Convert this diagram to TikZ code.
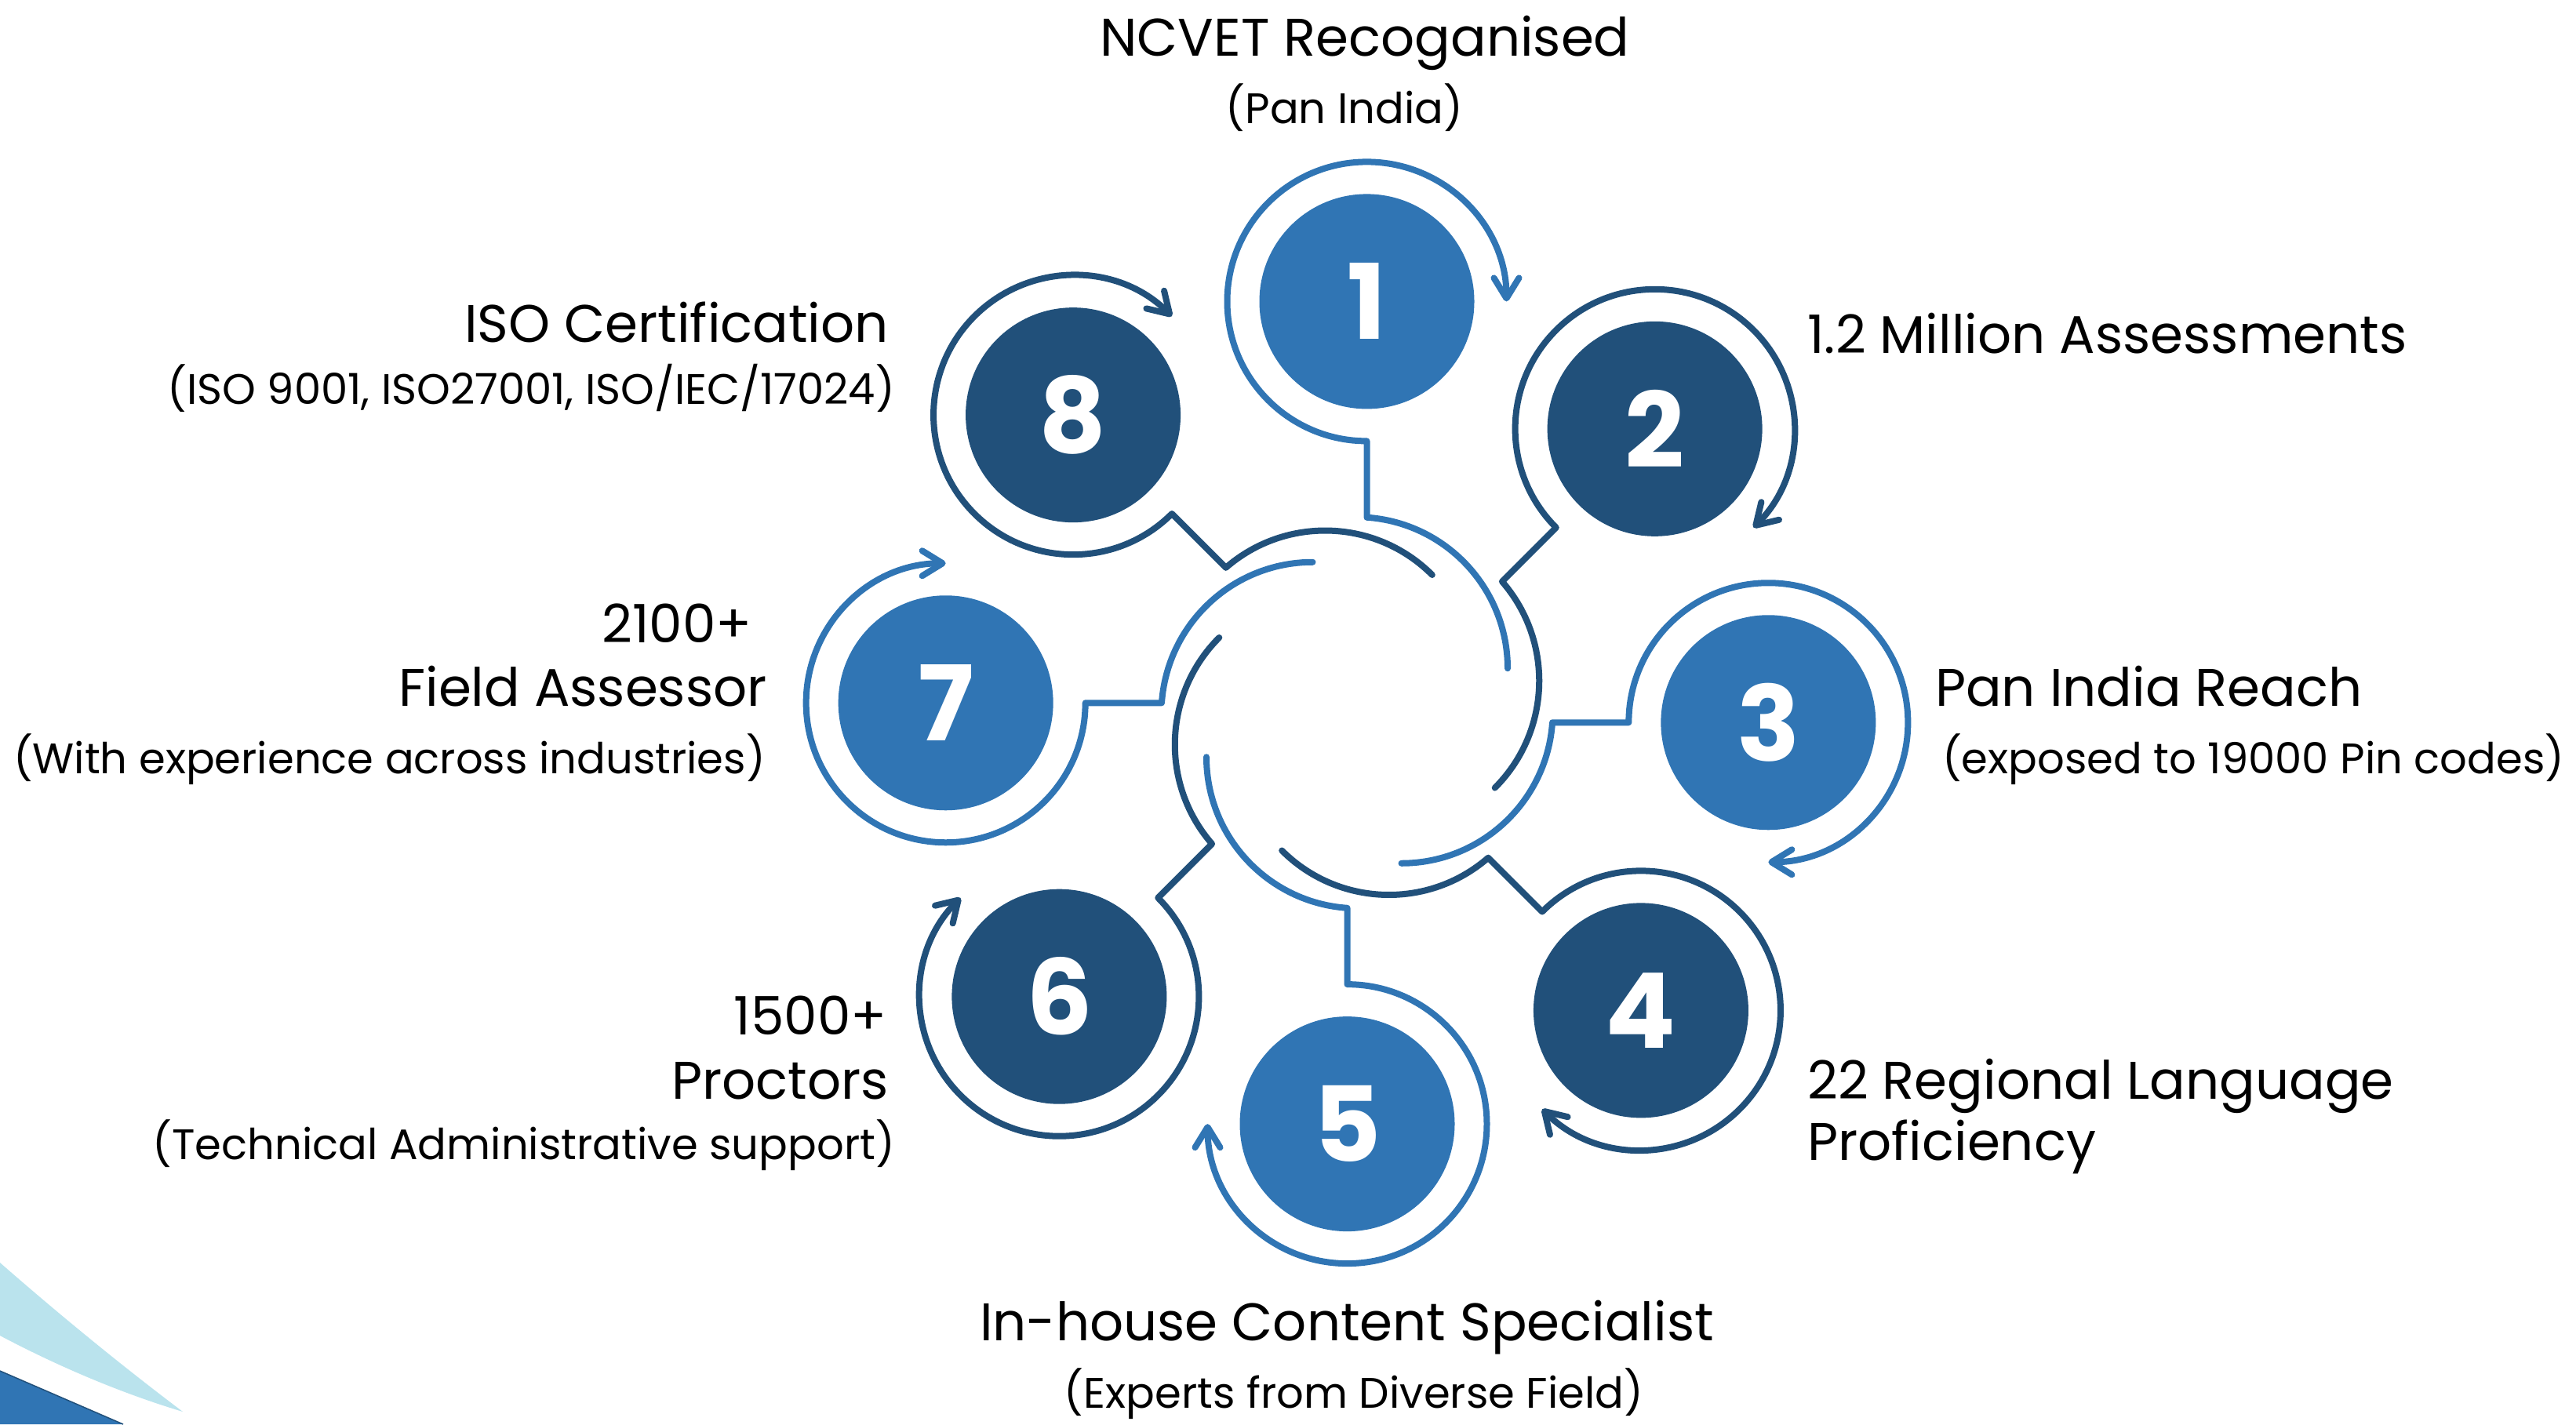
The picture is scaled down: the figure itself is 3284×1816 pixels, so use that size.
\documentclass[tikz,border=0pt]{standalone}
\usepackage{fontspec}
\setmainfont{Poppins}
\usetikzlibrary{arrows.meta}
\definecolor{lb}{RGB}{48,117,180}
\definecolor{db}{RGB}{33,80,122}
\definecolor{sky}{RGB}{186,227,237}
\begin{document}
\begin{tikzpicture}[x=1pt,y=1pt,
  ring/.style={line width=8pt, line cap=round, line join=round,
    -{Straight Barb[length=26pt,width=32pt,line cap=round,line join=round]}},
  badge/.style={circle, minimum size=274pt, inner sep=0pt, text=white,
    font=\fontsize{133}{133}\selectfont\bfseries},
  ttl/.style={inner sep=0pt, font=\fontsize{67.5}{80}\selectfont},
  sbt/.style={inner sep=0pt, font=\fontsize{54.4}{65}\selectfont}]
\useasboundingbox (0,0) rectangle (3284,-1816);
% corner decoration
\fill[sky] (0,-1610) .. controls (80,-1680) and (160,-1745) .. (233,-1800)
  .. controls (150,-1775) and (70,-1740) .. (0,-1703) -- cycle;
\fill[lb] (0,-1748) -- (157,-1816) -- (0,-1816) -- cycle;
\draw[db, line width=1.5pt] (0,-1748) -- (157,-1816);
% satellites
\foreach \a/\c/\n in {90/lb/1, 45/db/2, 0/lb/3, -45/db/4, -90/lb/5, -135/db/6, 180/lb/7, 135/db/8}{
  \begin{scope}[shift={(1730,-908.75)}, rotate=\a]
    \draw[\c, ring] (56.5,-192) arc[start angle=-90, end angle=-4.01, radius=193]
      -- (346.35,-12.5) arc[start angle=180, end angle=-90, radius=178];
    \node[badge, fill=\c] (s\n) at (524.35,-12.5) {\n};
  \end{scope}
}
% labels
\node[ttl, anchor=base] (t1) at (1740,-71) {NCVET Recoganised};
\node[sbt, anchor=base] (u1) at (1714,-157) {(Pan India)};
\node[ttl, anchor=base west] (t2) at (2304,-450) {1.2 Million Assessments};
\node[ttl, anchor=base west] (t3) at (2467,-900) {Pan India Reach};
\node[sbt, anchor=base west] (u3) at (2476,-986) {(exposed to 19000 Pin codes)};
\node[ttl, anchor=base west] (t4a) at (2304,-1401) {22 Regional Language};
\node[ttl, anchor=base west] (t4b) at (2304,-1479) {Proficiency};
\node[ttl, anchor=base] (t5) at (1717,-1709) {In-house Content Specialist};
\node[sbt, anchor=base] (u5) at (1726,-1795) {(Experts from Diverse Field)};
\node[ttl, anchor=base east] (t6a) at (1131,-1319) {1500+};
\node[ttl, anchor=base east] (t6b) at (1133,-1401) {Proctors};
\node[sbt, anchor=base east] (u6) at (1141,-1478) {(Technical Administrative support)};
\node[ttl, anchor=base east] (t7a) at (959,-819) {2100+};
\node[ttl, anchor=base east] (t7b) at (978,-900) {Field Assessor};
\node[sbt, anchor=base east] (u7) at (976,-986) {(With experience across industries)};
\node[ttl, anchor=base east] (t8) at (1133,-436) {ISO Certification};
\node[sbt, anchor=base east] (u8) at (1141,-515) {(ISO 9001, ISO27001, ISO/IEC/17024)};
\end{tikzpicture}
\end{document}
